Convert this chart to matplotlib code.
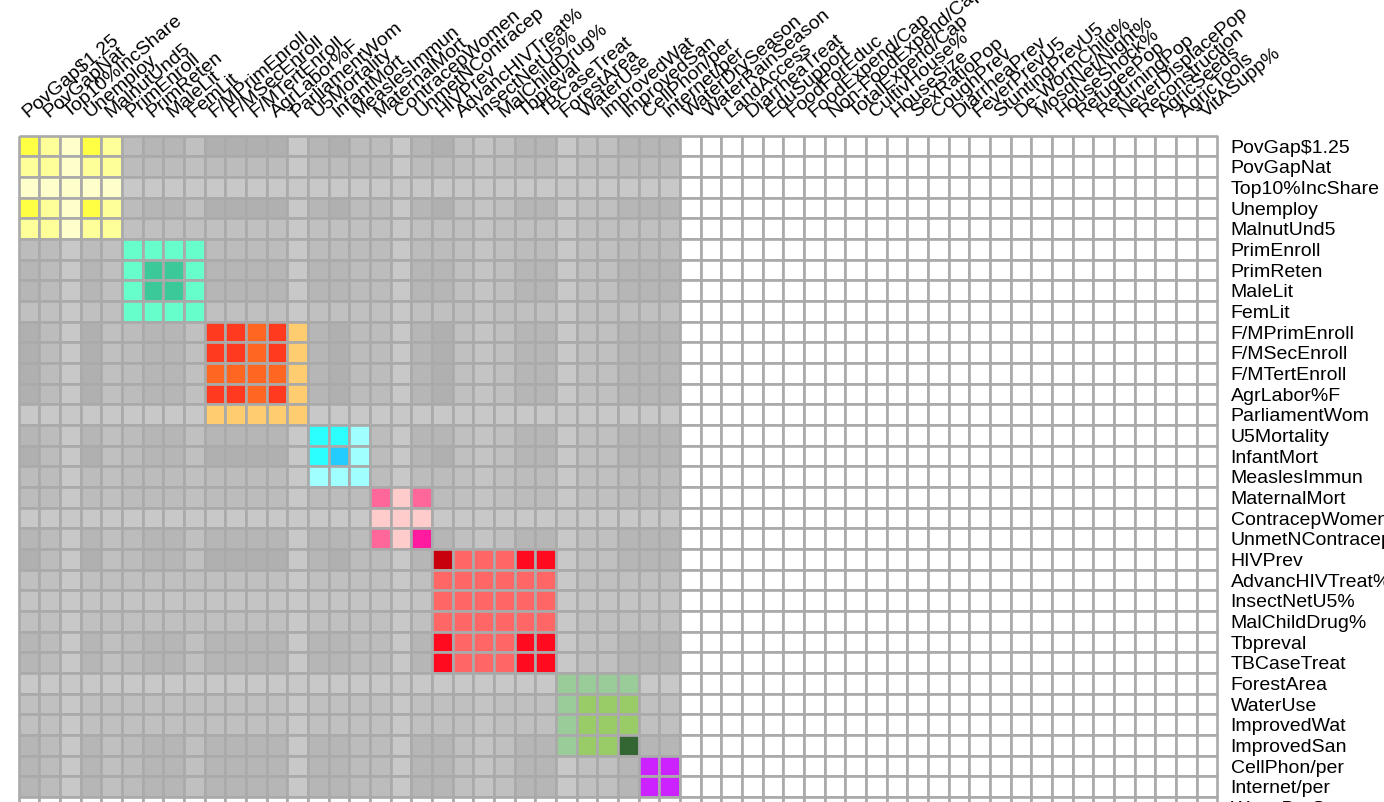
import numpy as np
import matplotlib
matplotlib.use("Agg")
import matplotlib.pyplot as plt
from matplotlib.colors import ListedColormap

plt.rcParams['font.family'] = ['Liberation Sans', 'DejaVu Sans']

variables = [
    "PovGap$1.25", "PovGapNat", "Top10%IncShare", "Unemploy", "MalnutUnd5",
    "PrimEnroll", "PrimReten", "MaleLit", "FemLit",
    "F/MPrimEnroll", "F/MSecEnroll", "F/MTertEnroll", "AgrLabor%F", "ParliamentWom",
    "U5Mortality", "InfantMort", "MeaslesImmun",
    "MaternalMort", "ContracepWomen", "UnmetNContracep",
    "HIVPrev", "AdvancHIVTreat%", "InsectNetU5%", "MalChildDrug%", "Tbpreval", "TBCaseTreat",
    "ForestArea", "WaterUse", "ImprovedWat", "ImprovedSan",
    "CellPhon/per", "Internet/per",
    "WaterDrySeason", "WaterRainSeason", "LandAccess", "DiarrheaTreat", "EduSupport",
    "FoodForEduc", "FoodExpend/Cap", "Non-FoodExpend/Cap", "TotalExpend/Cap",
    "CultivHouse%", "HouseSize", "SexRatioPop", "CoughPrev", "DiarrheaPrev",
    "FeverPrevU5", "StuntingPrevU5", "De-WormChild%", "MosqNet/Night%", "HouseShock%",
    "RefugeePop", "ReturningPop", "NeverDisplacePop", "Reconstruction", "AgricSeeds",
    "AgricTools", "VitASupp%",
]

# cell codes per row (first 32 columns); remaining cells are white ('W')
row_codes = [
    "ylpyl CBBD AAAAF BAC CFB ADEDBB FDDB BB",
    "llpll CCCD CCCCF CCC CFC CDEDCC FDDC CC",
    "ppppp FFFF FFFFF FFF FFF FFFFFF FFFF FF",
    "ylpyl CBBD AAAAF BAC CFB ADEDBB FDDB BB",
    "llpll DDDD DDDDF DDD DFD DDEDDD FDDD DD",
    "CCFCD qqqq CCCCF CCC CFC CDEDCC FDDC CC",
    "BCFBD qQQq BBBBF BBC CFB BDEDBB FDDB BB",
    "BCFBD qQQq BBBBF BBC CFB BDEDBB FDDB BB",
    "DDFDD qqqq DDDDF DDD DFD DDEDDD FDDD DD",
    "ACFAD CBBD rroru BAC CFB ADEDBB FDDB BB",
    "ACFAD CBBD rroru BAC CFB ADEDBB FDDB BB",
    "ACFAD CBBD oooou BAC CFB ADEDBB FDDB BB",
    "ACFAD CBBD rroru BAC CFB ADEDBB FDDB BB",
    "FFFFF FFFF uuuuu FFF FFF FFFFFF FFFF FF",
    "BCFBD CBBD BBBBF cck CFB BDEDBB FDDB BB",
    "ACFAD CBBD AAAAF csk CFB ADEDBB FDDB BB",
    "CCFCD CCCD CCCCF kkk CFC CDEDCC FDDC CC",
    "CCFCD CCCD CCCCF CCC mnm CDEDCC FDDC CC",
    "FFFFF FFFF FFFFF FFF nnn FFFFFF FFFF FF",
    "BCFBD CBBD BBBBF BBC mng BDEDBB FDDB BB",
    "ACFAD CBBD AAAAF BAC CFB dhhhRR FDDB BB",
    "DDFDD DDDD DDDDF DDD DFD hhhhhh FDDD DD",
    "EEFEE EEEE EEEEF EEE EFE hhhhhh FEEE EE",
    "DDFDD DDDD DDDDF DDD DFD hhhhhh FDDD DD",
    "BCFBD CBBD BBBBF BBC CFB RhhhRR FDDB BB",
    "BCFBD CBBD BBBBF BBC CFB RhhhRR FDDB BB",
    "FFFFF FFFF FFFFF FFF FFF FFFFFF eeee FF",
    "DDFDD DDDD DDDDF DDD DFD DDEDDD efff DD",
    "DDFDD DDDD DDDDF DDD DFD DDEDDD efff DD",
    "BCFBD CBBD BBBBF BBC CFB BDEDBB effG BB",
    "BCFBD CBBD BBBBF BBC CFB BDEDBB FDDB vv",
    "BCFBD CBBD BBBBF BBC CFB BDEDBB FDDB vv",
]

palette = {
    'A': '#b0b0b0', 'B': '#b6b6b6', 'C': '#bcbcbc', 'D': '#c0c0c0',
    'E': '#c4c4c4', 'F': '#c8c8c8', 'W': '#ffffff',
    'y': '#ffff44', 'l': '#ffff99', 'p': '#ffffcc',
    'q': '#66ffcc', 'Q': '#3cc99a',
    'r': '#ff3a1e', 'o': '#ff6622', 'u': '#ffcc70',
    'c': '#2bffff', 's': '#22ccff', 'k': '#a0ffff',
    'm': '#ff6699', 'n': '#ffcccc', 'g': '#ff1aa0',
    'd': '#c8000e', 'R': '#ff0a1e', 'h': '#ff6666',
    'e': '#99cc99', 'f': '#99cc66', 'G': '#336633',
    'v': '#cc22ff',
}

codes = list(palette.keys())
code_index = {c: i for i, c in enumerate(codes)}
n = len(variables)
M = np.full((n, n), code_index['W'], dtype=float)
for i, s in enumerate(row_codes):
    for j, ch in enumerate(s.replace(' ', '')):
        M[i, j] = code_index[ch]

W_PX, H_PX = 1384, 802
fig = plt.figure(figsize=(W_PX / 100, H_PX / 100), dpi=100)

cell = 20.667
left_px, top_px = 18.67, 135.67
ax = fig.add_axes([left_px / W_PX, 1 - (top_px + n * cell) / H_PX,
                   n * cell / W_PX, n * cell / H_PX])

cmap = ListedColormap([palette[c] for c in codes])
mesh = ax.pcolormesh(np.arange(n + 1), np.arange(n + 1), M, cmap=cmap,
                     vmin=-0.5, vmax=len(codes) - 0.5,
                     edgecolors='#aaaaaa', linewidth=1.92, antialiased=True)
mesh.set_clip_on(False)
ax.set_xlim(0, n)
ax.set_ylim(n, 0)
for sp in ax.spines.values():
    sp.set_visible(False)

ax.set_xticks([])
ax.yaxis.tick_right()
ax.set_yticks(np.arange(n) + 0.5, labels=variables, fontsize=14)
ax.tick_params(axis='y', length=0, pad=9.5)

for j, name in enumerate(variables):
    ax.text(j + 0.45, -0.855, name, rotation=40, rotation_mode='anchor',
            ha='left', va='baseline', fontsize=14, clip_on=False)

fig.savefig('out.png', dpi=100)
